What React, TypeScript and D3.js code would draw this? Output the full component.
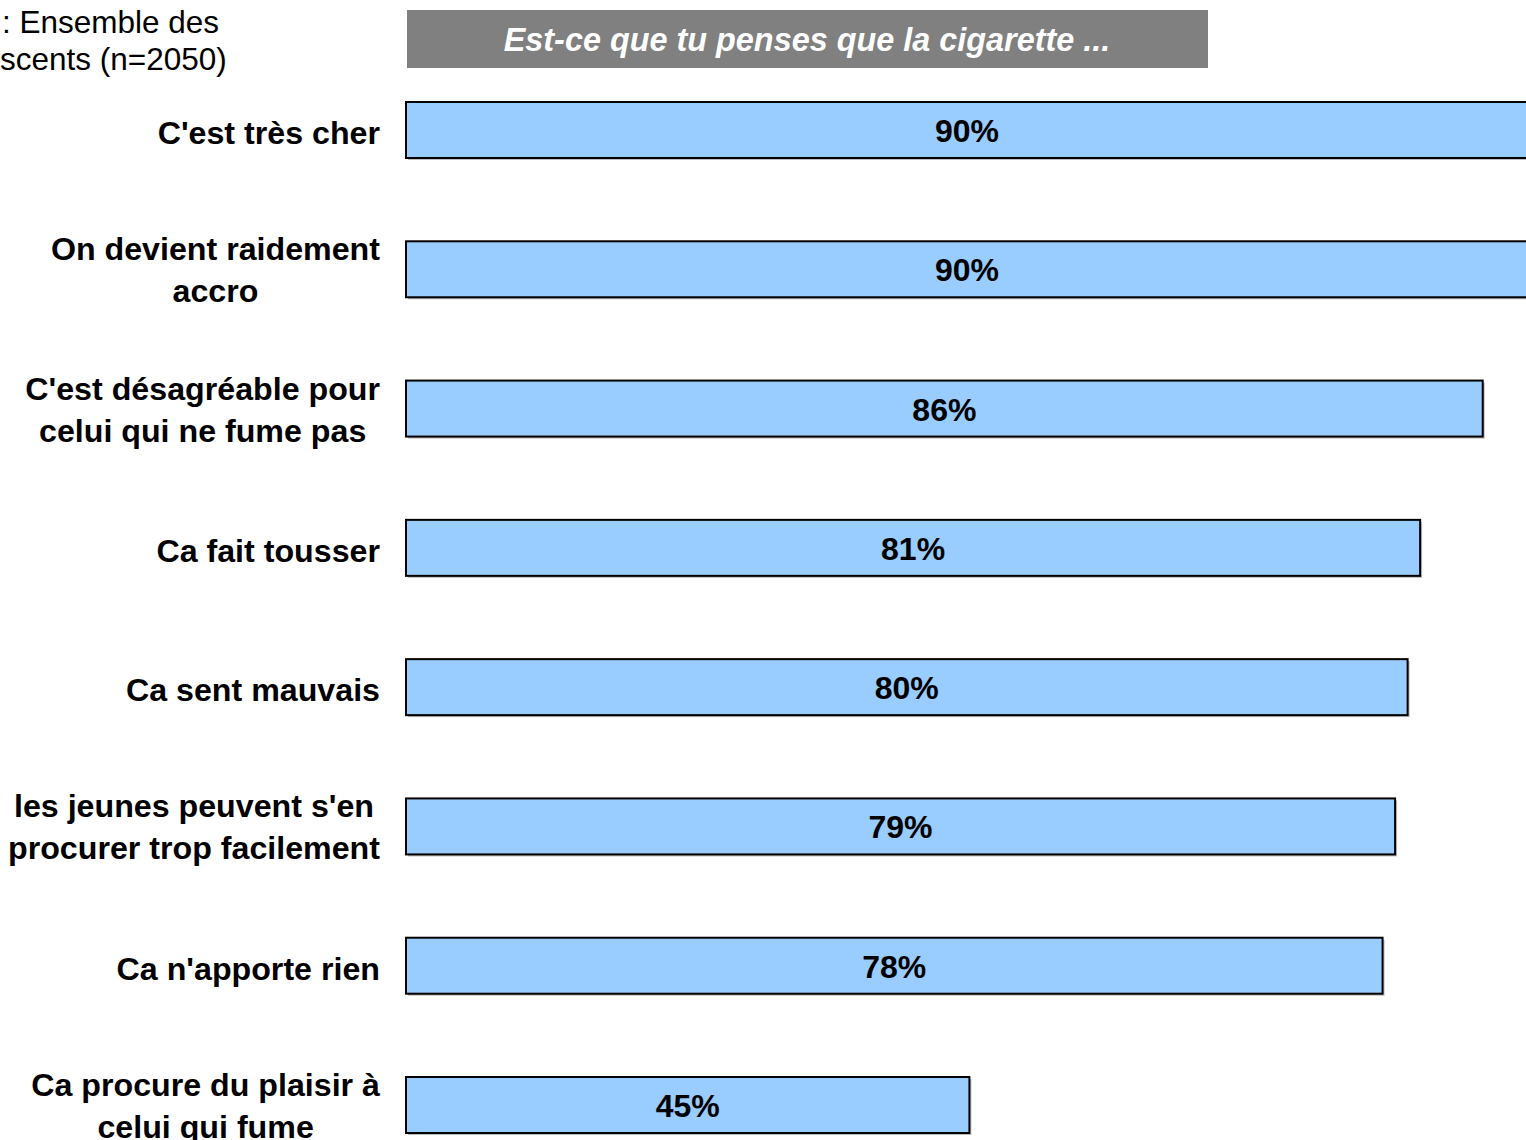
import React, { useRef, useEffect } from "react";
import * as d3 from "d3";

const width = 1526; // whole picture
const height = 1140;
const barLeft = 406; // left edge of bars in px
const pxPerPct = 12.52; // bar scale
const labelRight = 380; // right edge of the category labels
const barFill = "#99ccff";
const font = "'Liberation Sans', Arial, sans-serif";

// categories, one entry per bar (\n = line break in the label)
const categories = [
  "C'est très cher",
  "On devient raidement\naccro",
  "C'est désagréable pour\ncelui qui ne fume pas",
  "Ca fait tousser",
  "Ca sent mauvais",
  "les jeunes peuvent s'en\nprocurer trop facilement",
  "Ca n'apporte rien",
  "Ca procure du plaisir à\ncelui qui fume",
];
const values = [90, 90, 86, 81, 80, 79, 78, 45];
const baseLines = [": Ensemble des", "scents (n=2050)"];
const question = "Est-ce que tu penses que la cigarette ...";

const x = d3
  .scaleLinear()
  .domain([0, 100])
  .range([barLeft, barLeft + 100 * pxPerPct]);

const y = d3
  .scaleBand<string>()
  .domain(categories)
  .range([102, 1133])
  .paddingInner(0.598)
  .paddingOuter(0);

const App = () => {
  const labelsRef = useRef<SVGGElement>(null);

  useEffect(() => {
    if (!labelsRef.current) return;
    // center multi-line labels on their longest line, right-aligned block
    d3.select(labelsRef.current)
      .selectAll<SVGTextElement, unknown>("text")
      .each(function () {
        const spans = d3.select(this).selectAll<SVGTSpanElement, unknown>("tspan");
        let maxW = 0;
        spans.each(function () {
          maxW = Math.max(maxW, this.getComputedTextLength());
        });
        spans.attr("x", labelRight - maxW / 2);
      });
  }, []);

  return (
    <svg
      width={width}
      height={height}
      style={{ position: "absolute", left: 0, top: 0, background: "#fff" }}
      fontFamily={font}
    >
      {/* base note, cut by the left edge */}
      {baseLines.map((t, i) => (
        <text key={t} x={i === 0 ? 2 : 0} y={33 + i * 37} fontSize={31.5} fill="#000">
          {t}
        </text>
      ))}

      {/* question banner */}
      <rect x={407} y={10} width={801} height={58} fill="#808080" />
      <text
        x={807}
        y={51}
        textAnchor="middle"
        fontSize={32.4}
        fontWeight="bold"
        fontStyle="italic"
        fill="#fff"
      >
        {question}
      </text>

      {/* bars */}
      {categories.map((c, i) => {
        const y0 = y(c) as number;
        const w = x(values[i]) - x(0);
        return (
          <g key={c}>
            <rect
              x={x(0) + 2}
              y={y0 + 2}
              width={w}
              height={y.bandwidth()}
              fill="#bbbbbb"
            />
            <rect
              x={x(0)}
              y={y0}
              width={w}
              height={y.bandwidth()}
              fill={barFill}
              stroke="#000"
              strokeWidth={2}
            />
            <text
              x={(x(0) + Math.min(x(values[i]), width + 2)) / 2}
              y={y0 + y.bandwidth() / 2 + 12}
              textAnchor="middle"
              fontSize={32}
              fontWeight="bold"
              fill="#000"
            >
              {values[i]}%
            </text>
          </g>
        );
      })}

      {/* category labels */}
      <g ref={labelsRef}>
        {categories.map((c) => {
          const lines = c.split("\n");
          const cy = (y(c) as number) + y.bandwidth() / 2;
          const first = lines.length === 1 ? cy + 14 : cy - 9;
          return (
            <text
              key={c}
              textAnchor="middle"
              fontSize={32.2}
              fontWeight="bold"
              fill="#000"
            >
              {lines.map((l, j) => (
                <tspan key={j} x={labelRight} y={first + j * 42}>
                  {l}
                </tspan>
              ))}
            </text>
          );
        })}
      </g>
    </svg>
  );
};

export default App;
